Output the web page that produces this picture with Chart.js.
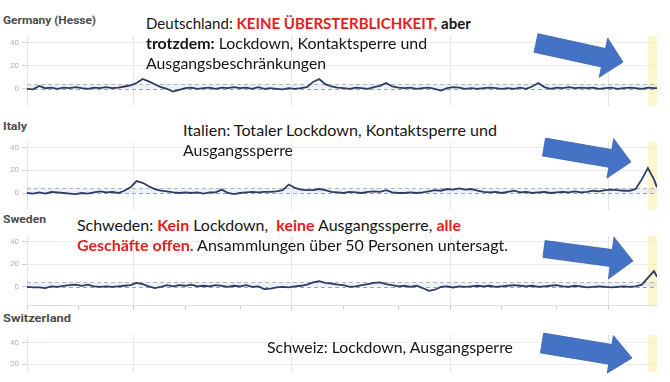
<!DOCTYPE html>
<html>
<head>
<meta charset="utf-8">
<script src="https://cdn.jsdelivr.net/npm/chart.js@4.4.1/dist/chart.umd.min.js"></script>
<style>
  html, body { margin: 0; padding: 0; background: #fff; overflow: hidden; }
  #wrap { position: relative; width: 670px; height: 382px; overflow: hidden; }
  canvas { position: absolute; left: 0; }
  .titel { position: absolute; left: 3px; font-family: Roboto, sans-serif; font-weight: 700; font-size: 10.5px; line-height: 14px; color: #4d4d4d; white-space: nowrap; transform-origin: 0 50%; z-index: 2; }
  .notiz { position: absolute; font-family: Lato, sans-serif; font-size: 16px; line-height: 20px; color: #161616; white-space: nowrap; transform-origin: 0 50%; z-index: 2; }
  .rot { color: #e3211c; font-weight: 700; }
  b { font-weight: 700; }
  svg { position: absolute; left: 0; top: 0; z-index: 3; }
</style>
</head>
<body>
<div id="wrap">
  <canvas id="deutschland" width="670" height="70" style="top:36px"></canvas>
  <canvas id="italien" width="670" height="68" style="top:142px"></canvas>
  <canvas id="schweden" width="670" height="74" style="top:236px"></canvas>
  <canvas id="schweiz" width="670" height="37" style="top:335px"></canvas>

  <div class="titel" style="top:14px" data-w="93">Germany (Hesse)</div>
  <div class="titel" style="top:120px" data-w="24">Italy</div>
  <div class="titel" style="top:213px" data-w="43">Sweden</div>
  <div class="titel" style="top:312px" data-w="68">Switzerland</div>

  <div class="notiz" style="left:146px;top:13px" data-w="325">Deutschland: <span class="rot">KEINE ÜBERSTERBLICHKEIT,</span> <b>aber</b></div>
  <div class="notiz" style="left:146px;top:33px" data-w="281"><b>trotzdem:</b> Lockdown, Kontaktsperre und</div>
  <div class="notiz" style="left:146px;top:53px" data-w="180">Ausgangsbeschränkungen</div>

  <div class="notiz" style="left:183px;top:120px" data-w="314">Italien: Totaler Lockdown, Kontaktsperre und</div>
  <div class="notiz" style="left:183px;top:140px" data-w="110">Ausgangssperre</div>

  <div class="notiz" style="left:77px;top:215px" data-w="384">Schweden: <span class="rot">Kein</span> Lockdown,&nbsp; <span class="rot">keine</span> Ausgangssperre, <span class="rot">alle</span></div>
  <div class="notiz" style="left:77px;top:235px" data-w="431"><span class="rot">Geschäfte offen.</span> Ansammlungen über 50 Personen untersagt.</div>

  <div class="notiz" style="left:267px;top:337px" data-w="246">Schweiz: Lockdown, Ausgangsperre</div>

  <svg id="pfeile" width="670" height="382"></svg>
</div>

<script>
const weeks = [
  0, 2, 4, 6, 8, 10, 12, 14, 16, 18,
  20, 22, 24, 26, 28, 30, 32, 34, 36, 38,
  40, 42, 44, 46, 48, 50, 52, 54, 56, 58,
  60, 62, 64, 66, 68, 70, 72, 74, 76, 78,
  80, 82, 84, 86, 88, 90, 92, 94, 96, 98,
  100, 102, 104, 106, 108, 110, 112, 114, 116, 118,
  120, 122, 124, 126, 128, 130, 132, 134, 136, 138,
  140, 142, 144, 146, 148, 150, 152, 154, 156, 158,
  160, 162, 164, 166, 168, 170, 172, 174, 176, 178,
  180, 182, 184, 186, 188, 190, 192, 194, 196, 198,
  200, 202, 204, 206, 207
];

// z-scores
const germany = [
  0, -0.5, 2.5, 0.5, 1, 0, 1, 0.5, 1.5, 0.5,
  0, 1, 0.5, 1.5, 0.5, 1, 2, 3, 5, 8.5,
  6.5, 4, 1.5, 0, -2.5, -1, 0.5, 1, 0, 0.5,
  1, 0, 1, 0.5, 1.5, 0.5, 1, 0, 1.5, 0,
  0.5, 0, -0.5, 0.5, 0, 0.5, 1.5, 6, 8.5, 4,
  2, 1, 0.5, 0, 1, 0.5, 0, 1.5, 2.5, 5,
  2, 1, 0.5, 1, 0, 0.5, 1, 0, -1.5, 0.5,
  1.5, 1, 0, 0.5, 0, 0.5, 1, 0.5, 0, 0.5,
  0, 1, 0, 2, 5, 1.5, 0, 1, 0.5, 1.5,
  0.5, 1, 0.5, 1, 0, 0.5, 1, 0, 0.5, 1,
  0.5, 0, 1, 0.5, 0.5
];

const italy = [
  0, -0.5, 0.5, -0.5, 1, 0.5, 0, -0.5, -1, 0,
  -0.5, 0.5, 1.5, 0.5, 1, 0, 2, 5, 10.5, 9,
  6, 3.5, 2, 1.5, 0.5, 0, 0.5, 0, 0.5, -0.5,
  0.5, 0.5, 3, 0, -1, 0, 0.5, 1, 0.5, 1,
  1, 1.5, 2.5, 7.5, 4.5, 3, 2.5, 2.5, 3.5, 2.5,
  1, 0.5, 0, 1, 0.5, 0, 1, 1.5, 1, 2.5,
  0.5, 0, 0, 0.5, 0, 0.5, 1.5, 2.5, 2, 3.5,
  3, 4, 3, 3.5, 2, 1, 0.5, 1, 0, 1,
  2, 0.5, 1, 0, 0.5, 1, 0, 0.5, 1, 0.5,
  1.5, 0.5, 1, 2, 1.5, 2.5, 3, 2.5, 2, 2,
  3.5, 12, 22, 12, 5
];

const sweden = [
  0, -0.5, -0.5, -1, 0.5, 0, 1, 1.5, 2, 1,
  2, 0.5, 0, 0.5, 0, 0.5, 1, 1.5, 3.5, 2.5,
  0.5, -1, 0, 1.5, 0.5, 1.5, 1, 2, 0.5, 1,
  0.5, 1.5, 1, 0, 1, 0.5, 1.5, 0, 0.5, -2,
  -1.5, -0.5, 0, -0.5, 0.5, 1, 2, 4, 5, 3.5,
  3, 2, 1.5, 0, 0.5, 1.5, 2.5, 3.5, 4, 2.5,
  1.5, 0.5, 1, 0, 1, -1, -3.5, -2.5, 0, 0.5,
  -0.5, 0.5, 0, 0.5, 1, 0.5, 1, 0, 0.5, 1,
  1.5, 1, 0.5, 1, 0, 0.5, 1, 1.5, 0.5, 0,
  1, 0.5, -0.5, 0, 0.5, 0, -0.5, 0, 0.5, 0,
  0.5, 2, 8, 14, 9
];

const yTicks = [0, 20, 40];
const gridWeeks = [0, 35, 87, 139, 191];          // Jahreswechsel
const axisTickWeeks = [0, 17, 35, 52, 70, 87, 104, 122, 139, 156, 174, 191];
const baselineLevels = [0, 4];                     // gestrichelte Linien
const highlightWeeks = [204, 207];                 // gelb markierte Wochen

// gelbes Band, blaues Band und gestrichelte Linien
const zonen = {
  id: 'zonen',
  beforeDatasetsDraw(chart) {
    const { ctx, chartArea: a, scales: { x, y } } = chart;
    ctx.save();
    ctx.beginPath();
    ctx.rect(a.left, a.top, a.right - a.left, a.bottom - a.top);
    ctx.clip();

    const x0 = x.getPixelForValue(highlightWeeks[0]);
    const x1 = x.getPixelForValue(highlightWeeks[1]);
    ctx.fillStyle = 'rgba(252, 238, 168, 0.6)';
    ctx.fillRect(x0, a.top, x1 - x0, a.bottom - a.top);

    const yLow = y.getPixelForValue(baselineLevels[0]);
    const yHigh = y.getPixelForValue(baselineLevels[1]);
    ctx.fillStyle = 'rgba(175, 200, 235, 0.25)';
    ctx.fillRect(a.left, yHigh, a.right - a.left, yLow - yHigh);

    ctx.setLineDash([4, 3]);
    ctx.lineWidth = 1;
    baselineLevels.forEach((v, i) => {
      const yy = Math.round(y.getPixelForValue(v)) + 0.5;
      ctx.strokeStyle = i === 0 ? '#a4a4a8' : '#bdb4b4';
      ctx.beginPath();
      ctx.moveTo(a.left, yy);
      ctx.lineTo(a.right, yy);
      ctx.stroke();
    });
    ctx.restore();
  }
};

function zeichne(id, werte, yMin, yMax, mitTicks) {
  const datasets = werte ? [{
    data: werte,
    borderColor: '#2e3c66',
    borderWidth: 1.8,
    pointRadius: 0,
    tension: 0,
    fill: false
  }] : [];

  return new Chart(document.getElementById(id), {
    type: 'line',
    data: { labels: weeks, datasets },
    options: {
      responsive: false,
      animation: false,
      layout: { padding: { left: 0, right: 13, top: 0, bottom: 0 } },
      plugins: { legend: { display: false }, tooltip: { enabled: false } },
      scales: {
        x: {
          type: 'linear',
          min: 0,
          max: 207,
          afterBuildTicks: s => { s.ticks = (mitTicks ? axisTickWeeks : gridWeeks).map(v => ({ value: v })); },
          afterFit: s => { s.height = mitTicks ? 5 : 0; s.paddingLeft = 0; s.paddingRight = 0; },
          ticks: { display: false },
          border: { display: mitTicks, color: '#e2e2e2' },
          grid: {
            color: c => gridWeeks.includes(c.tick.value) ? '#e6e6e6' : 'rgba(0,0,0,0)',
            tickColor: '#c4c4c4',
            drawTicks: mitTicks,
            tickLength: 4
          }
        },
        y: {
          min: yMin,
          max: yMax,
          afterBuildTicks: s => { s.ticks = yTicks.filter(v => v >= yMin).map(v => ({ value: v })); },
          afterFit: s => { s.width = 27; s.paddingTop = 0; s.paddingBottom = 0; },
          ticks: { color: '#b2b2b2', font: { family: 'Roboto', size: 8 }, padding: 3 },
          border: { display: false },
          grid: {
            color: c => c.tick.value === 0 ? 'rgba(0,0,0,0)' : '#ebebeb',
            tickColor: '#d2d2d2',
            tickLength: 5
          }
        }
      }
    },
    plugins: [zonen]
  });
}

zeichne('deutschland', germany, -15, 46, false);
zeichne('italien', italy, -15, 45, false);
zeichne('schweden', sweden, -16, 45, true);
// Schweiz: im Original unten abgeschnitten, Kurve nicht sichtbar
zeichne('schweiz', null, 12.4, 47.6, false);

// blaue Pfeile (Form wie in PowerPoint)
function pfeil(tail, tip, schaft, kopfBreite, kopfLaenge) {
  const dx = tip[0] - tail[0], dy = tip[1] - tail[1];
  const len = Math.hypot(dx, dy);
  const ux = dx / len, uy = dy / len, nx = -uy, ny = ux;
  const bx = tip[0] - ux * kopfLaenge, by = tip[1] - uy * kopfLaenge;
  const p = [
    [tail[0] - nx * schaft / 2, tail[1] - ny * schaft / 2],
    [bx - nx * schaft / 2, by - ny * schaft / 2],
    [bx - nx * kopfBreite / 2, by - ny * kopfBreite / 2],
    tip,
    [bx + nx * kopfBreite / 2, by + ny * kopfBreite / 2],
    [bx + nx * schaft / 2, by + ny * schaft / 2],
    [tail[0] + nx * schaft / 2, tail[1] + ny * schaft / 2]
  ];
  const poly = document.createElementNS('http://www.w3.org/2000/svg', 'polygon');
  poly.setAttribute('points', p.map(q => q[0].toFixed(1) + ',' + q[1].toFixed(1)).join(' '));
  poly.setAttribute('fill', '#4472c4');
  poly.setAttribute('stroke', '#3a63b0');
  poly.setAttribute('stroke-width', '0.8');
  document.getElementById('pfeile').appendChild(poly);
}

pfeil([536, 43], [623, 62], 19, 40, 20);
pfeil([544, 147], [631, 162], 18, 40, 21);
pfeil([544, 249], [633, 261], 17, 42, 22);
pfeil([542, 343], [632, 358], 20, 38, 22);

// Texte auf die Breite im Original bringen
document.fonts.ready.then(() => {
  document.querySelectorAll('[data-w]').forEach(el => {
    const w = el.getBoundingClientRect().width;
    el.style.transform = 'scaleX(' + (el.dataset.w / w).toFixed(3) + ')';
  });
});
</script>
</body>
</html>
